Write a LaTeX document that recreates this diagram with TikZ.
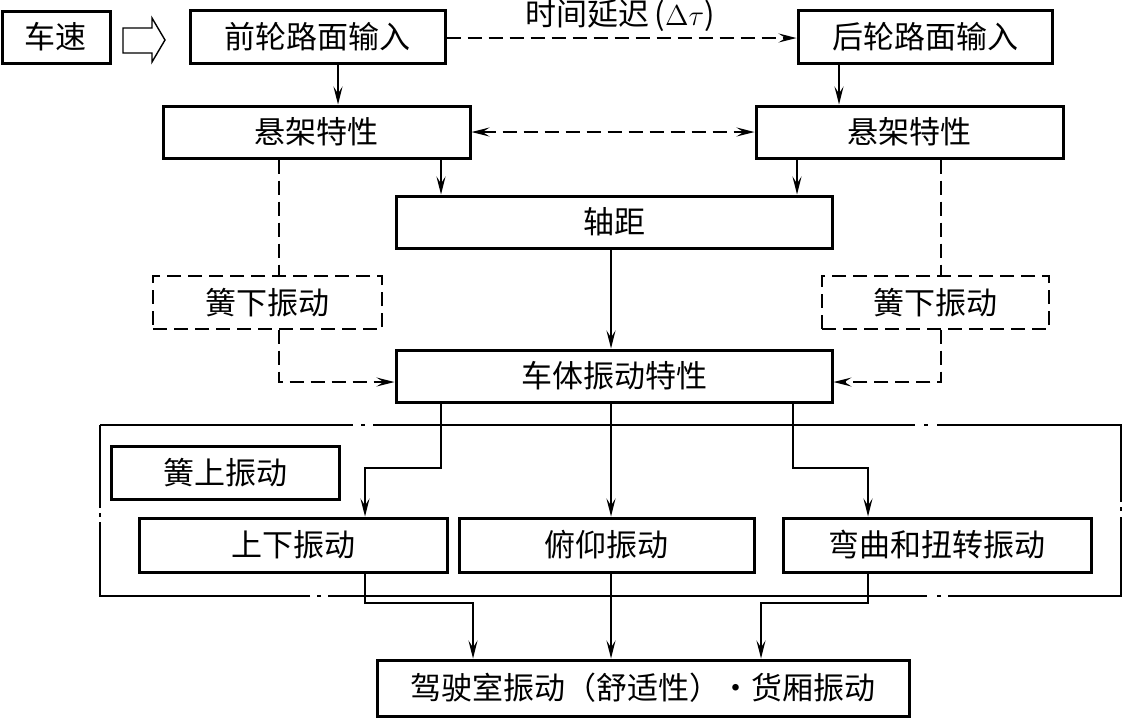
\documentclass[tikz,border=0pt]{standalone}
\usepackage{fontspec}
\setmainfont{Noto Sans CJK SC}
\usetikzlibrary{arrows.meta}
\tikzset{
  vbbox/.style={draw=black, line width=1.5pt, inner sep=0pt, font=\fontsize{15.5pt}{18pt}\selectfont},
  vbdbox/.style={draw=black, line width=0.7pt, dash pattern=on 7pt off 3.5pt, inner sep=0pt, font=\fontsize{15.5pt}{18pt}\selectfont},
  vbtip/.tip={Stealth[length=9pt,width=4.5pt,inset=3.5pt]},
  vbarrow/.style={line width=0.75pt, -vbtip},
  vbdash/.style={line width=0.7pt, dash pattern=on 7pt off 3.5pt},
  vbframe/.style={line width=0.75pt},
  vbhollow/.style={line width=0.7pt, draw=black, line join=miter},
}

\begin{document}
\begin{tikzpicture}[x=0.5pt,y=-0.5pt]
\useasboundingbox (0,0) rectangle (1124,719);
% boxes
\node[vbbox, minimum width=54pt, minimum height=26pt] (speed) at (56,37) {车速};
\node[vbbox, minimum width=127.5pt, minimum height=26.5pt] (front) at (317.5,36.5) {前轮路面输入};
\node[vbbox, minimum width=127pt, minimum height=26.5pt] (rear) at (925,36.5) {后轮路面输入};
\node[vbbox, minimum width=153.5pt, minimum height=26pt] (suspL) at (316.5,132) {悬架特性};
\node[vbbox, minimum width=153.5pt, minimum height=26pt] (suspR) at (909.5,132) {悬架特性};
\node[vbbox, minimum width=218pt, minimum height=26pt] (wheelbase) at (614,222) {轴距};
\node[vbdbox, minimum width=114.5pt, minimum height=26.5pt] (unsprungL) at (267.5,302.5) {簧下振动};
\node[vbdbox, minimum width=113.5pt, minimum height=26.5pt] (unsprungR) at (935.5,302.5) {簧下振动};
\node[vbbox, minimum width=218pt, minimum height=26pt] (body) at (614,376) {车体振动特性};
\node[vbbox, minimum width=114pt, minimum height=26.5pt] (sprung) at (225,472.5) {簧上振动};
\node[vbbox, minimum width=154pt, minimum height=27pt] (bounce) at (293,545) {上下振动};
\node[vbbox, minimum width=147.5pt, minimum height=27pt] (pitch) at (606.5,545) {俯仰振动};
\node[vbbox, minimum width=154pt, minimum height=27pt] (bend) at (937,545) {弯曲和扭转振动};
\node[vbbox, minimum width=266pt, minimum height=28pt] (cab) at (643,688) {驾驶室振动（舒适性）・货厢振动};
\node[font=\fontsize{15.5pt}{18pt}\selectfont, inner sep=0pt] (delay) at (620,16) {时间延迟\,($\Delta\tau$)};

% hollow arrow after speed
\draw[vbhollow] (123,28) -- (152,28) -- (152,18) -- (165,40) -- (152,62) -- (152,53) -- (123,53) -- cycle;

% line positions
\coordinate (xA) at (338,0);
\coordinate (xB) at (839,0);
\coordinate (xC) at (441,0);
\coordinate (xD) at (797,0);
\coordinate (xE) at (279,0);
\coordinate (xF) at (941,0);
\coordinate (xG) at (611,0);
\coordinate (xH) at (793,0);
\coordinate (yA) at (0,38);
\coordinate (yB) at (0,382);
\coordinate (kneeA) at (365,468);
\coordinate (kneeB) at (868,468);
\coordinate (kneeC) at (473,603);
\coordinate (kneeD) at (761,603);

% connectors
\draw[vbdash, -vbtip] (front.east |- yA) -- (rear.west |- yA);
\draw[vbarrow] (front.south -| xA) -- (suspL.north -| xA);
\draw[vbarrow] (rear.south -| xB) -- (suspR.north -| xB);
\draw[vbdash, vbtip-vbtip] (suspL.east) -- (suspR.west);
\draw[vbarrow] (suspL.south -| xC) -- (wheelbase.north -| xC);
\draw[vbarrow] (suspR.south -| xD) -- (wheelbase.north -| xD);
\draw[vbdash] (suspL.south -| xE) -- (unsprungL.north -| xE);
\draw[vbdash] (suspR.south -| xF) -- (unsprungR.north -| xF);
\draw[vbdash, -vbtip] (unsprungL.south -| xE) |- (body.west |- yB);
\draw[vbdash, -vbtip] (unsprungR.south -| xF) |- (body.east |- yB);
\draw[vbarrow] (wheelbase.south -| xG) -- (body.north -| xG);
\draw[vbarrow] (body.south -| xC) |- (kneeA) -- (bounce.north -| kneeA);
\draw[vbarrow] (body.south -| xG) -- (pitch.north -| xG);
\draw[vbarrow] (body.south -| xH) |- (kneeB) -- (bend.north -| kneeB);
\draw[vbarrow] (bounce.south -| kneeA) |- (kneeC) -- (cab.north -| kneeC);
\draw[vbarrow] (pitch.south -| xG) -- (cab.north -| xG);
\draw[vbarrow] (bend.south -| kneeB) |- (kneeD) -- (cab.north -| kneeD);

% dash-dot frame round the sprung group
\draw[vbframe] (100,425) -- (353,425);
\draw[vbframe] (361,425) -- (365,425);
\draw[vbframe] (373,425) -- (915,425);
\draw[vbframe] (924,425) -- (928,425);
\draw[vbframe] (937,425) -- (1121,425) -- (1121,502);
\draw[vbframe] (1121,507) -- (1121,511);
\draw[vbframe] (1121,517) -- (1121,596) -- (948,596);
\draw[vbframe] (941,596) -- (937,596);
\draw[vbframe] (927,596) -- (328,596);
\draw[vbframe] (321,596) -- (317,596);
\draw[vbframe] (310,596) -- (100,596) -- (100,522);
\draw[vbframe] (100,517) -- (100,513);
\draw[vbframe] (100,508) -- (100,425);
\end{tikzpicture}
\end{document}
